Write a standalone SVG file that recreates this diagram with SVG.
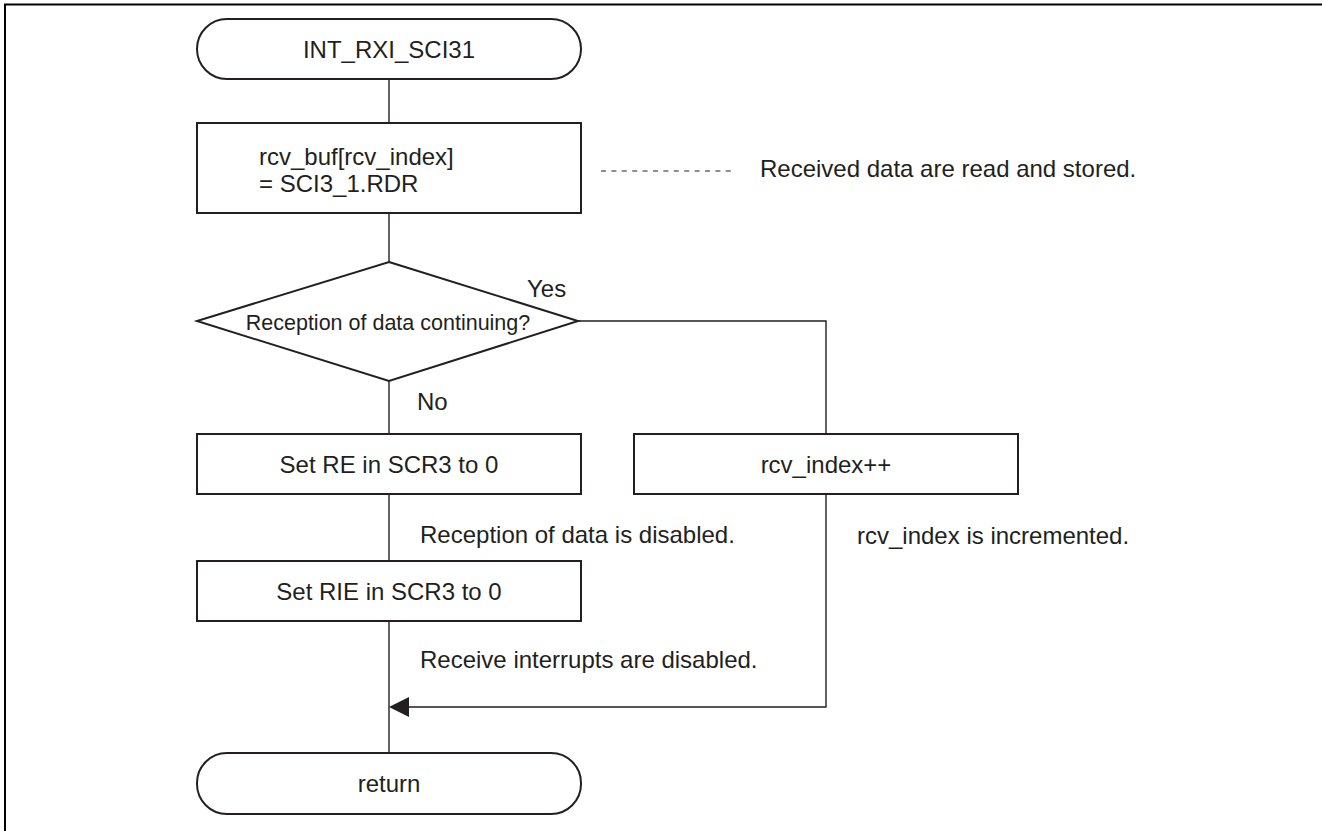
<svg xmlns="http://www.w3.org/2000/svg" width="1322" height="831" viewBox="0 0 1322 831">
  <style>
    .shape { fill: #ffffff; stroke: #231f20; stroke-width: 2; }
    .wire { fill: none; stroke: #231f20; stroke-width: 1.4; }
    .note-dash { fill: none; stroke: #231f20; stroke-width: 1.2; stroke-dasharray: 5 5.4; }
    text { font-family: "Liberation Sans", Arial, Helvetica, sans-serif; font-size: 24px; fill: #231f20; }
    .mid { text-anchor: middle; }
    .small { font-size: 21.5px; }
  </style>

  <!-- page frame (left and top edges) -->
  <path d="M5,831 V4.5 H1322" fill="none" stroke="#000000" stroke-width="2"/>

  <!-- connectors -->
  <g id="connectors">
    <path class="wire" d="M389,79 V123"/>
    <path class="wire" d="M389,213 V262"/>
    <path class="wire" d="M389,381 V434"/>
    <path class="wire" d="M389,494 V561"/>
    <path class="wire" d="M389,621 V753"/>
    <path class="wire" d="M578,321 H826 V434"/>
    <path class="wire" d="M826,494 V707 H409"/>
    <path d="M389,707 L409,697 L409,717 Z" fill="#231f20"/>
    <path class="note-dash" d="M601,171 H736"/>
  </g>

  <!-- start terminal -->
  <g id="start">
    <rect class="shape" x="197" y="19" width="384" height="60" rx="30" ry="30"/>
    <text class="mid" x="389" y="58">INT_RXI_SCI31</text>
  </g>

  <!-- store received byte -->
  <g id="store">
    <rect class="shape" x="197" y="123" width="384" height="90"/>
    <text x="259" y="165">rcv_buf[rcv_index]</text>
    <text x="259" y="192">= SCI3_1.RDR</text>
    <text x="760" y="177">Received data are read and stored.</text>
  </g>

  <!-- decision -->
  <g id="decision">
    <path class="shape" d="M389,262 L578,321 L389,381 L197,321 Z"/>
    <text class="mid small" x="388" y="330">Reception of data continuing?</text>
    <text x="527" y="297">Yes</text>
    <text x="417" y="410">No</text>
  </g>

  <!-- clear RE -->
  <g id="clear-re">
    <rect class="shape" x="197" y="434" width="384" height="60"/>
    <text class="mid" x="389" y="473">Set RE in SCR3 to 0</text>
    <text x="420" y="543">Reception of data is disabled.</text>
  </g>

  <!-- clear RIE -->
  <g id="clear-rie">
    <rect class="shape" x="197" y="561" width="384" height="60"/>
    <text class="mid" x="389" y="600">Set RIE in SCR3 to 0</text>
    <text x="420" y="668">Receive interrupts are disabled.</text>
  </g>

  <!-- advance index -->
  <g id="advance">
    <rect class="shape" x="634" y="434" width="384" height="60"/>
    <text class="mid" x="826" y="473">rcv_index++</text>
    <text x="857" y="544">rcv_index is incremented.</text>
  </g>

  <!-- end terminal -->
  <g id="end">
    <rect class="shape" x="197" y="753" width="384" height="61" rx="30" ry="30"/>
    <text class="mid" x="389" y="792">return</text>
  </g>
</svg>
